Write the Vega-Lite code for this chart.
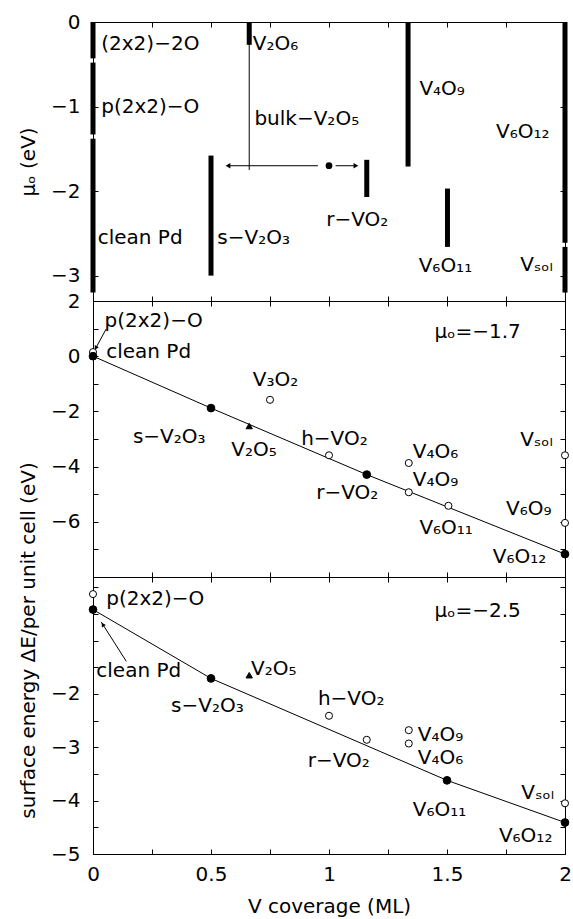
{
 "$schema": "https://vega.github.io/schema/vega-lite/v6.json",
 "padding": {"left": 18, "top": 11, "right": 0, "bottom": 0},
 "spacing": 0,
 "bounds": "flush",
 "config": {
  "font": "DejaVu Sans",
  "view": {"stroke": "black", "strokeWidth": 1},
  "axis": {"tickSize": -5, "labelFontSize": 20, "titleFontSize": 20, "titleFontWeight": "normal", "labelColor": "black", "titleColor": "black", "domainColor": "black", "tickColor": "black", "grid": false, "labelFont": "DejaVu Sans", "titleFont": "DejaVu Sans", "labelPadding": 18, "labelFlush": false, "labelOverlap": false, "titlePadding": 12},
  "text": {"font": "DejaVu Sans", "fontSize": 20, "color": "black"}
 },
 "datasets": {
  "muBars": [{"x":0,"y":0,"y2":-0.43},{"x":0,"y":-0.48,"y2":-1.33},{"x":0,"y":-1.38,"y2":-3.2},{"x":0.5,"y":-1.58,"y2":-3.0},{"x":0.662,"y":0,"y2":-0.27},{"x":1.16,"y":-1.63,"y2":-2.07},{"x":1.335,"y":0,"y2":-1.71},{"x":1.502,"y":-1.97,"y2":-2.66},{"x":2,"y":0,"y2":-2.61},{"x":2,"y":-2.66,"y2":-3.2}],
  "muLines": [{"x":0.662,"y":0,"x2":0.662,"y2":-1.75},{"x":0.57,"y":-1.7,"x2":0.953,"y2":-1.7},{"x":1.028,"y":-1.7,"x2":1.115,"y2":-1.7}],
  "muHeadL": [{"x":0.572,"y":-1.7}],
  "muHeadR": [{"x":1.114,"y":-1.7}],
  "muDot": [{"x":1.0,"y":-1.7}],
  "muLabels": [
   {"x":0.035,"y":-0.26,"label":"(2x2)−2O"},
   {"x":0.035,"y":-1.0,"label":"p(2x2)−O"},
   {"x":0.02,"y":-2.55,"label":"clean Pd"},
   {"x":0.527,"y":-2.55,"label":"s−V₂O₃"},
   {"x":0.677,"y":-0.26,"label":"V₂O₆"},
   {"x":0.684,"y":-1.15,"label":"bulk−V₂O₅"},
   {"x":0.988,"y":-2.34,"label":"r−VO₂"},
   {"x":1.383,"y":-0.79,"label":"V₄O₉"},
   {"x":1.708,"y":-1.3,"label":"V₆O₁₂"},
   {"x":1.38,"y":-2.89,"label":"V₆O₁₁"},
   {"x":1.81,"y":-2.87,"label":"Vₛₒₗ"}
  ],
  "midPoints": [
   {"x":0,"y":0.15,"kind":"metastable","name":"p(2x2)-O"},
   {"x":0,"y":0,"kind":"stable","name":"clean Pd"},
   {"x":0.5,"y":-1.88,"kind":"stable","name":"s-V2O3"},
   {"x":0.662,"y":-2.53,"kind":"bulk","name":"V2O5"},
   {"x":0.75,"y":-1.58,"kind":"metastable","name":"V3O2"},
   {"x":1.0,"y":-3.59,"kind":"metastable","name":"h-VO2"},
   {"x":1.16,"y":-4.29,"kind":"stable","name":"r-VO2"},
   {"x":1.338,"y":-3.87,"kind":"metastable","name":"V4O6"},
   {"x":1.338,"y":-4.93,"kind":"metastable","name":"V4O9"},
   {"x":1.506,"y":-5.42,"kind":"metastable","name":"V6O11"},
   {"x":2,"y":-3.59,"kind":"metastable","name":"Vsol"},
   {"x":2,"y":-6.04,"kind":"metastable","name":"V6O9"},
   {"x":2,"y":-7.17,"kind":"stable","name":"V6O12"}
  ],
  "midLabels": [
   {"x":0.049,"y":1.29,"label":"p(2x2)−O"},
   {"x":0.056,"y":0.14,"label":"clean Pd"},
   {"x":0.169,"y":-2.93,"label":"s−V₂O₃"},
   {"x":0.677,"y":-0.88,"label":"V₃O₂"},
   {"x":0.586,"y":-3.41,"label":"V₂O₅"},
   {"x":0.882,"y":-2.99,"label":"h−VO₂"},
   {"x":0.946,"y":-4.95,"label":"r−VO₂"},
   {"x":1.355,"y":-3.47,"label":"V₄O₆"},
   {"x":1.355,"y":-4.5,"label":"V₄O₉"},
   {"x":1.383,"y":-6.24,"label":"V₆O₁₁"},
   {"x":1.81,"y":-3.05,"label":"Vₛₒₗ"},
   {"x":1.75,"y":-5.52,"label":"V₆O₉"},
   {"x":1.694,"y":-7.27,"label":"V₆O₁₂"},
   {"x":1.447,"y":0.87,"label":"μₒ=−1.7"}
  ],
  "midArrow": [{"x":0.056,"y":0.99,"x2":0.006,"y2":0.2}],
  "midHead": [{"x":0.012,"y":0.3}],
  "botPoints": [
   {"x":0,"y":-0.13,"kind":"metastable","name":"p(2x2)-O"},
   {"x":0,"y":-0.42,"kind":"stable","name":"clean Pd"},
   {"x":0.5,"y":-1.71,"kind":"stable","name":"s-V2O3"},
   {"x":0.662,"y":-1.65,"kind":"bulk","name":"V2O5"},
   {"x":1.0,"y":-2.41,"kind":"metastable","name":"h-VO2"},
   {"x":1.16,"y":-2.86,"kind":"metastable","name":"r-VO2"},
   {"x":1.338,"y":-2.68,"kind":"metastable","name":"V4O9"},
   {"x":1.338,"y":-2.93,"kind":"metastable","name":"V4O6"},
   {"x":1.5,"y":-3.62,"kind":"stable","name":"V6O11"},
   {"x":2,"y":-4.05,"kind":"metastable","name":"Vsol"},
   {"x":2,"y":-4.41,"kind":"stable","name":"V6O12"}
  ],
  "botLabels": [
   {"x":0.056,"y":-0.23,"label":"p(2x2)−O"},
   {"x":0.014,"y":-1.58,"label":"clean Pd"},
   {"x":0.331,"y":-2.23,"label":"s−V₂O₃"},
   {"x":0.67,"y":-1.53,"label":"V₂O₅"},
   {"x":0.953,"y":-2.1,"label":"h−VO₂"},
   {"x":0.91,"y":-3.25,"label":"r−VO₂"},
   {"x":1.376,"y":-2.77,"label":"V₄O₉"},
   {"x":1.376,"y":-3.21,"label":"V₄O₆"},
   {"x":1.355,"y":-4.17,"label":"V₆O₁₁"},
   {"x":1.815,"y":-3.86,"label":"Vₛₒₗ"},
   {"x":1.72,"y":-4.67,"label":"V₆O₁₂"},
   {"x":1.447,"y":-0.44,"label":"μₒ=−2.5"}
  ],
  "botArrow": [{"x":0.141,"y":-1.39,"x2":0.035,"y2":-0.653}],
  "botHead": [{"x":0.0415,"y":-0.7}]
 },
 "vconcat": [
  {
   "width": 472, "height": 279,
   "resolve": {"axis": {"x": "independent", "y": "independent"}},
   "layer": [
    {"data": {"name": "muBars"},
     "mark": {"type": "rule", "strokeWidth": 5, "strokeCap": "butt", "color": "black"},
     "encoding": {
      "x": {"field": "x", "type": "quantitative", "scale": {"domain": [0, 2], "nice": false, "zero": false}, "axis": {"orient": "bottom", "values": [0,0.25,0.5,0.75,1,1.25,1.5,1.75,2], "labels": false, "title": null}},
      "y": {"field": "y", "type": "quantitative", "scale": {"domain": [-3.3, 0], "nice": false, "zero": false}, "axis": {"orient": "left", "values": [0,-1,-2,-3], "format": "~g", "title": "μₒ (eV)"}},
      "y2": {"field": "y2"}}},
    {"data": {"name": "muLines"},
     "mark": {"type": "rule", "strokeWidth": 1, "color": "black"},
     "encoding": {
      "x": {"field": "x", "type": "quantitative", "scale": {"domain": [0, 2], "nice": false, "zero": false}, "axis": null},
      "y": {"field": "y", "type": "quantitative", "scale": {"domain": [-3.3, 0], "nice": false, "zero": false}, "axis": null},
      "x2": {"field": "x2"}, "y2": {"field": "y2"}}},
    {"data": {"name": "muHeadL"},
     "mark": {"type": "point", "shape": "triangle-left", "filled": true, "color": "black", "size": 30, "opacity": 1},
     "encoding": {
      "x": {"field": "x", "type": "quantitative", "scale": {"domain": [0, 2], "nice": false, "zero": false}, "axis": null},
      "y": {"field": "y", "type": "quantitative", "scale": {"domain": [-3.3, 0], "nice": false, "zero": false}, "axis": null}}},
    {"data": {"name": "muHeadR"},
     "mark": {"type": "point", "shape": "triangle-right", "filled": true, "color": "black", "size": 30, "opacity": 1},
     "encoding": {
      "x": {"field": "x", "type": "quantitative", "scale": {"domain": [0, 2], "nice": false, "zero": false}, "axis": null},
      "y": {"field": "y", "type": "quantitative", "scale": {"domain": [-3.3, 0], "nice": false, "zero": false}, "axis": null}}},
    {"data": {"name": "muDot"},
     "mark": {"type": "point", "shape": "circle", "filled": true, "color": "black", "size": 45, "opacity": 1},
     "encoding": {
      "x": {"field": "x", "type": "quantitative", "scale": {"domain": [0, 2], "nice": false, "zero": false}, "axis": null},
      "y": {"field": "y", "type": "quantitative", "scale": {"domain": [-3.3, 0], "nice": false, "zero": false}, "axis": null}}},
    {"data": {"name": "muLabels"},
     "mark": {"type": "text", "align": "left", "baseline": "middle", "fontSize": 20},
     "encoding": {
      "x": {"field": "x", "type": "quantitative", "scale": {"domain": [0, 2], "nice": false, "zero": false}, "axis": {"orient": "top", "values": [0,0.25,0.5,0.75,1,1.25,1.5,1.75,2], "labels": false, "title": null}},
      "y": {"field": "y", "type": "quantitative", "scale": {"domain": [-3.3, 0], "nice": false, "zero": false}, "axis": {"orient": "right", "values": [0,-1,-2,-3], "labels": false, "title": null}},
      "text": {"field": "label"}}}
   ]
  },
  {
   "width": 472, "height": 276,
   "resolve": {"axis": {"x": "independent", "y": "independent"}},
   "layer": [
    {"data": {"name": "midPoints"},
     "transform": [{"filter": "datum.kind == 'stable'"}],
     "mark": {"type": "line", "strokeWidth": 1, "color": "black"},
     "encoding": {
      "x": {"field": "x", "type": "quantitative", "scale": {"domain": [0, 2], "nice": false, "zero": false}, "axis": {"orient": "bottom", "values": [0,0.25,0.5,0.75,1,1.25,1.5,1.75,2], "labels": false, "title": null}},
      "y": {"field": "y", "type": "quantitative", "scale": {"domain": [-8, 2], "nice": false, "zero": false}, "axis": {"orient": "left", "values": [2,1,0,-1,-2,-3,-4,-5,-6,-7,-8], "format": "~g", "labelExpr": "datum.value % 2 == 0 && datum.value > -8 ? datum.label : ''", "title": null}}}},
    {"data": {"name": "midArrow"},
     "mark": {"type": "rule", "strokeWidth": 1, "color": "black"},
     "encoding": {
      "x": {"field": "x", "type": "quantitative", "scale": {"domain": [0, 2], "nice": false, "zero": false}, "axis": null},
      "y": {"field": "y", "type": "quantitative", "scale": {"domain": [-8, 2], "nice": false, "zero": false}, "axis": null},
      "x2": {"field": "x2"}, "y2": {"field": "y2"}}},
    {"data": {"name": "midHead"},
     "mark": {"type": "point", "shape": "triangle-up", "angle": 208, "filled": true, "color": "black", "size": 22, "opacity": 1},
     "encoding": {
      "x": {"field": "x", "type": "quantitative", "scale": {"domain": [0, 2], "nice": false, "zero": false}, "axis": null},
      "y": {"field": "y", "type": "quantitative", "scale": {"domain": [-8, 2], "nice": false, "zero": false}, "axis": null}}},
    {"data": {"name": "midPoints"},
     "mark": {"type": "point", "filled": true, "stroke": "black", "strokeWidth": 1, "opacity": 1},
     "encoding": {
      "x": {"field": "x", "type": "quantitative", "scale": {"domain": [0, 2], "nice": false, "zero": false}, "axis": null},
      "y": {"field": "y", "type": "quantitative", "scale": {"domain": [-8, 2], "nice": false, "zero": false}, "axis": null},
      "shape": {"field": "kind", "type": "nominal", "scale": {"domain": ["stable", "metastable", "bulk"], "range": ["circle", "circle", "triangle-up"]}, "legend": null},
      "fill": {"field": "kind", "type": "nominal", "scale": {"domain": ["stable", "metastable", "bulk"], "range": ["black", "white", "black"]}, "legend": null},
      "size": {"field": "kind", "type": "nominal", "scale": {"domain": ["stable", "metastable", "bulk"], "range": [60, 40, 45]}, "legend": null}}},
    {"data": {"name": "midLabels"},
     "mark": {"type": "text", "align": "left", "baseline": "middle", "fontSize": 20},
     "encoding": {
      "x": {"field": "x", "type": "quantitative", "scale": {"domain": [0, 2], "nice": false, "zero": false}, "axis": {"orient": "top", "values": [0,0.25,0.5,0.75,1,1.25,1.5,1.75,2], "labels": false, "title": null}},
      "y": {"field": "y", "type": "quantitative", "scale": {"domain": [-8, 2], "nice": false, "zero": false}, "axis": {"orient": "right", "values": [2,1,0,-1,-2,-3,-4,-5,-6,-7,-8], "labels": false, "title": null}},
      "text": {"field": "label"}}}
   ]
  },
  {
   "width": 472, "height": 277,
   "resolve": {"axis": {"x": "independent", "y": "independent"}},
   "layer": [
    {"data": {"name": "botPoints"},
     "transform": [{"filter": "datum.kind == 'stable'"}],
     "mark": {"type": "line", "strokeWidth": 1, "color": "black"},
     "encoding": {
      "x": {"field": "x", "type": "quantitative", "scale": {"domain": [0, 2], "nice": false, "zero": false}, "axis": {"orient": "bottom", "values": [0,0.25,0.5,0.75,1,1.25,1.5,1.75,2], "format": "~g", "labelExpr": "datum.value % 0.5 == 0 ? datum.label : ''", "labelPadding": 15, "title": "V coverage (ML)", "titlePadding": 12}},
      "y": {"field": "y", "type": "quantitative", "scale": {"domain": [-5, 0.19], "nice": false, "zero": false}, "axis": {"orient": "left", "values": [0,-0.5,-1,-1.5,-2,-2.5,-3,-3.5,-4,-4.5,-5], "format": "~g", "labelExpr": "datum.value <= -2 && datum.value % 1 == 0 ? datum.label : ''", "title": "surface energy ΔE/per unit cell (eV)", "titleY": 63}}}},
    {"data": {"name": "botArrow"},
     "mark": {"type": "rule", "strokeWidth": 1, "color": "black"},
     "encoding": {
      "x": {"field": "x", "type": "quantitative", "scale": {"domain": [0, 2], "nice": false, "zero": false}, "axis": null},
      "y": {"field": "y", "type": "quantitative", "scale": {"domain": [-5, 0.19], "nice": false, "zero": false}, "axis": null},
      "x2": {"field": "x2"}, "y2": {"field": "y2"}}},
    {"data": {"name": "botHead"},
     "mark": {"type": "point", "shape": "triangle-up", "angle": 328, "filled": true, "color": "black", "size": 22, "opacity": 1},
     "encoding": {
      "x": {"field": "x", "type": "quantitative", "scale": {"domain": [0, 2], "nice": false, "zero": false}, "axis": null},
      "y": {"field": "y", "type": "quantitative", "scale": {"domain": [-5, 0.19], "nice": false, "zero": false}, "axis": null}}},
    {"data": {"name": "botPoints"},
     "mark": {"type": "point", "filled": true, "stroke": "black", "strokeWidth": 1, "opacity": 1},
     "encoding": {
      "x": {"field": "x", "type": "quantitative", "scale": {"domain": [0, 2], "nice": false, "zero": false}, "axis": null},
      "y": {"field": "y", "type": "quantitative", "scale": {"domain": [-5, 0.19], "nice": false, "zero": false}, "axis": null},
      "shape": {"field": "kind", "type": "nominal", "scale": {"domain": ["stable", "metastable", "bulk"], "range": ["circle", "circle", "triangle-up"]}, "legend": null},
      "fill": {"field": "kind", "type": "nominal", "scale": {"domain": ["stable", "metastable", "bulk"], "range": ["black", "white", "black"]}, "legend": null},
      "size": {"field": "kind", "type": "nominal", "scale": {"domain": ["stable", "metastable", "bulk"], "range": [60, 40, 45]}, "legend": null}}},
    {"data": {"name": "botLabels"},
     "mark": {"type": "text", "align": "left", "baseline": "middle", "fontSize": 20},
     "encoding": {
      "x": {"field": "x", "type": "quantitative", "scale": {"domain": [0, 2], "nice": false, "zero": false}, "axis": {"orient": "top", "values": [0,0.25,0.5,0.75,1,1.25,1.5,1.75,2], "labels": false, "title": null}},
      "y": {"field": "y", "type": "quantitative", "scale": {"domain": [-5, 0.19], "nice": false, "zero": false}, "axis": {"orient": "right", "values": [0,-0.5,-1,-1.5,-2,-2.5,-3,-3.5,-4,-4.5,-5], "labels": false, "title": null}},
      "text": {"field": "label"}}}
   ]
  }
 ]
}
